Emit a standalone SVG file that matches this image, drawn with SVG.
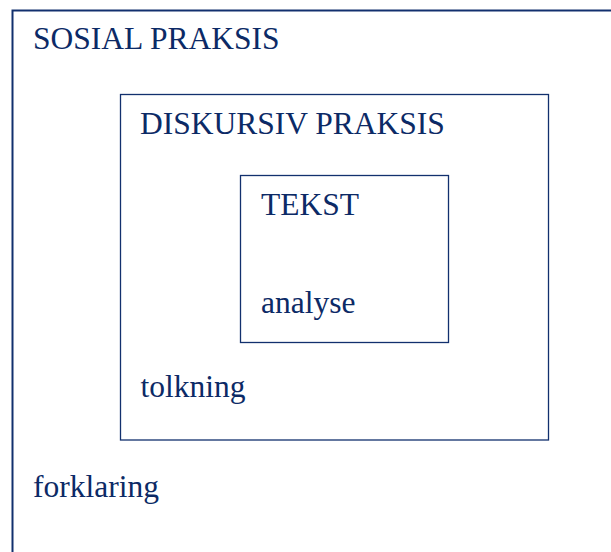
<svg xmlns="http://www.w3.org/2000/svg" width="611" height="552" viewBox="0 0 611 552">
  <style>
    .box { fill: none; stroke: #12306e; }
    .lbl { font-family: "Liberation Serif", "Times New Roman", serif; font-size: 31.5px; fill: #0c2a66; }
  </style>
  <rect width="611" height="552" fill="#ffffff"/>
  <g id="sosial-praksis">
    <rect class="box" x="12.5" y="10.5" width="610" height="560" stroke-width="2"/>
    <text class="lbl" x="33" y="48.5">SOSIAL PRAKSIS</text>
    <text class="lbl" x="33" y="497">forklaring</text>
  </g>
  <g id="diskursiv-praksis">
    <rect class="box" x="120.5" y="94.5" width="428" height="345.5" stroke-width="1.3"/>
    <text class="lbl" x="140" y="133.5">DISKURSIV PRAKSIS</text>
    <text class="lbl" x="140.5" y="397">tolkning</text>
  </g>
  <g id="tekst">
    <rect class="box" x="240.5" y="175.5" width="208" height="167" stroke-width="1.3"/>
    <text class="lbl" x="261" y="215">TEKST</text>
    <text class="lbl" x="261" y="313">analyse</text>
  </g>
  <g id="connectors"/>
</svg>
